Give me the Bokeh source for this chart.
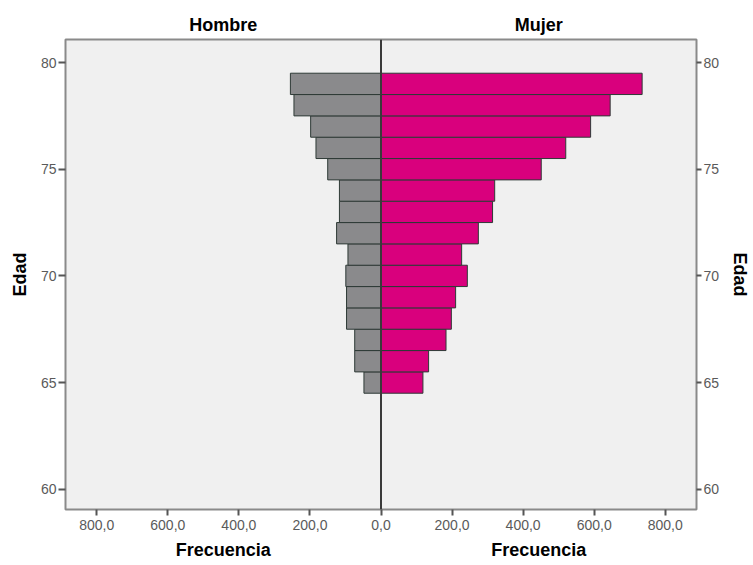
from bokeh.plotting import figure
from bokeh.models import Range1d, LinearAxis, FixedTicker, Span, ColumnDataSource
from bokeh.embed import file_html
from bokeh.resources import INLINE

# ---------------- data ----------------
edad = [65, 66, 67, 68, 69, 70, 71, 72, 73, 74, 75, 76, 77, 78, 79]
hombre = [48, 74, 74, 97, 97, 99, 93, 125, 117, 117, 150, 183, 198, 245, 255]
mujer = [118, 134, 183, 198, 210, 243, 227, 274, 314, 320, 451, 520, 590, 645, 735]

edad_ticks = [60, 65, 70, 75, 80]
freq_ticks = [-800, -600, -400, -200, 0, 200, 400, 600, 800]
freq_tick_labels = ["800,0", "600,0", "400,0", "200,0", "0,0",
                    "200,0", "400,0", "600,0", "800,0"]
panel_titles = ["Hombre", "Mujer"]
x_title = "Frecuencia"
y_title = "Edad"

# ---------------- style ----------------
FONT = "Liberation Sans"
GREY_BAR = "#8a8a8c"
PINK_BAR = "#d9007d"
EDGE = "#2e3a36"
TICK_TXT = "#5a5a5a"
AXIS_COL = "#555555"
HALF_CENTERS = [-444, 444]

src = ColumnDataSource(dict(
    edad=edad,
    hombre_left=[-v for v in hombre],
    mujer_right=mujer,
))

p = figure(width=753, height=565, output_backend="svg", toolbar_location=None,
           x_range=Range1d(-888, 888), y_range=Range1d(59.05, 81.08),
           y_axis_location=None, x_axis_location=None,
           min_border_left=65, min_border_right=55,
           min_border_top=39, min_border_bottom=56)

p.background_fill_color = "#f0f0f0"
p.border_fill_color = "white"
p.outline_line_color = "#8a8a8a"
p.outline_line_width = 2
p.xgrid.visible = False
p.ygrid.visible = False

p.hbar(y="edad", left="hombre_left", right=0, height=1, source=src,
       fill_color=GREY_BAR, line_color=EDGE, line_width=1)
p.hbar(y="edad", left=0, right="mujer_right", height=1, source=src,
       fill_color=PINK_BAR, line_color=EDGE, line_width=1)

p.add_layout(Span(location=0, dimension="height", line_color="#3a3a3a",
                  line_width=2))


def style_axis(ax, tick_out, standoff):
    ax.axis_line_color = None
    ax.major_tick_in = 0
    ax.major_tick_out = tick_out
    ax.major_tick_line_color = AXIS_COL
    ax.major_tick_line_width = 2
    ax.minor_tick_line_color = None
    ax.major_label_text_font = FONT
    ax.major_label_text_font_size = "14px"
    ax.major_label_text_color = TICK_TXT
    ax.major_label_standoff = standoff
    ax.axis_label_text_font = FONT
    ax.axis_label_text_font_size = "18px"
    ax.axis_label_text_font_style = "bold"
    ax.axis_label_text_color = "black"


def title_axis(ax, standoff):
    ax.axis_line_color = None
    ax.major_tick_in = 0
    ax.major_tick_out = 0
    ax.major_tick_line_color = None
    ax.minor_tick_line_color = None
    ax.major_label_text_font = FONT
    ax.major_label_text_font_size = "18px"
    ax.major_label_text_font_style = "bold"
    ax.major_label_text_color = "black"
    ax.major_label_standoff = standoff


left_ax = LinearAxis(ticker=FixedTicker(ticks=edad_ticks), axis_label=y_title,
                     axis_label_standoff=8)
style_axis(left_ax, 7, 2)
p.add_layout(left_ax, "left")

right_ax = LinearAxis(ticker=FixedTicker(ticks=edad_ticks), axis_label=y_title,
                      axis_label_standoff=8)
style_axis(right_ax, 5, 2)
p.add_layout(right_ax, "right")

bottom_ax = LinearAxis(ticker=FixedTicker(ticks=freq_ticks),
                       major_label_overrides={t: l for t, l in zip(freq_ticks, freq_tick_labels)})
style_axis(bottom_ax, 6, 4)
p.add_layout(bottom_ax, "below")

# "Frecuencia" under each half
freq_title_ax = LinearAxis(ticker=FixedTicker(ticks=HALF_CENTERS),
                           major_label_overrides={c: x_title for c in HALF_CENTERS})
title_axis(freq_title_ax, 7)
p.add_layout(freq_title_ax, "below")

# "Hombre" / "Mujer" above each half
panel_ax = LinearAxis(ticker=FixedTicker(ticks=HALF_CENTERS),
                      major_label_overrides={c: t for c, t in zip(HALF_CENTERS, panel_titles)})
title_axis(panel_ax, 5)
p.add_layout(panel_ax, "above")

open("out.html", "w").write(file_html(p, INLINE))
